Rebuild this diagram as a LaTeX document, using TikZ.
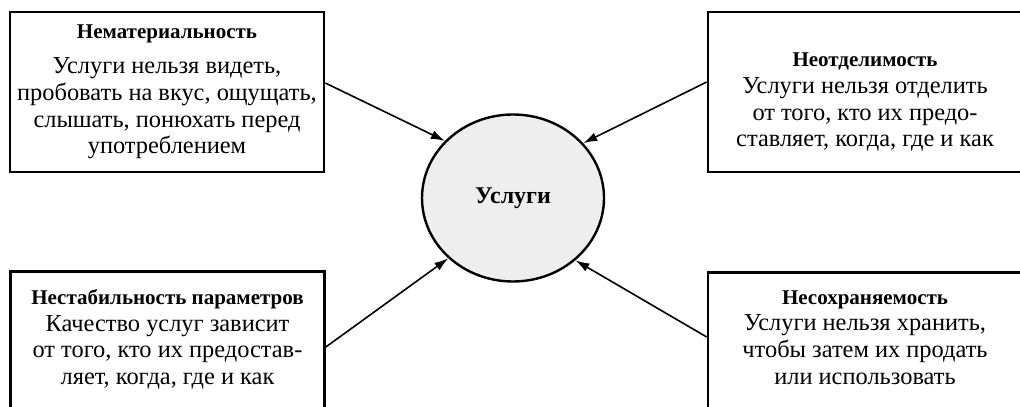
\documentclass[tikz,border=0pt]{standalone}
\usepackage{fontspec}
\setmainfont{Liberation Serif}
\usetikzlibrary{arrows.meta,shapes.geometric}
\newcommand\hd[1]{{\fontsize{10.5}{12}\selectfont\bfseries #1}}

\begin{document}
\begin{tikzpicture}[x=0.5pt,y=0.5pt,>={Latex[length=7pt,width=4.5pt]},
  box/.style={draw,line width=1.3pt,align=center,minimum width=157pt,inner xsep=3pt,
    font=\fontsize{12.2}{13.4}\selectfont},
  low/.style={box,anchor=north,inner ysep=9pt,text depth=40pt}]
\useasboundingbox (0,0) rectangle (1020,406);
\clip (0,0) rectangle (1020,406);
\node[ellipse,draw,line width=1.2pt,fill=gray!13,minimum width=91pt,minimum height=83.5pt,
  font=\fontsize{12}{14}\selectfont\bfseries] (usl) at (513,208) {Услуги};
\node[box,minimum height=80pt] (nemat) at (167,314) {\hd{Нематериальность}\\[4pt]
  Услуги нельзя видеть,\\ пробовать на вкус, ощущать,\\ слышать, понюхать перед\\ употреблением};
\node[box,minimum height=80pt] (neotd) at (865,314) {\hd{\rule{0pt}{17pt}Неотделимость}\\
  Услуги нельзя отделить\\ от того, кто их предо-\\ ставляет, когда, где и как};
\node[low] (nestab) at (167.5,136) {\hd{Нестабильность параметров}\\
  Качество услуг зависит\\ от того, кто их предостав-\\ ляет, когда, где и как};
\node[low] (nesohr) at (865,135) {\hd{Несохраняемость}\\
  Услуги нельзя хранить,\\ чтобы затем их продать\\ или использовать};
\draw[->,line width=0.8pt] ([yshift=4.5pt]nemat.east)--(usl.140);
\draw[->,line width=0.8pt] ([yshift=5pt]neotd.west)--(usl.38);
\draw[->,line width=0.8pt] ([yshift=-38.5pt]nestab.north east)--(usl.223);
\draw[->,line width=0.8pt] ([yshift=-33pt]nesohr.north west)--(usl.315);
\end{tikzpicture}
\end{document}
